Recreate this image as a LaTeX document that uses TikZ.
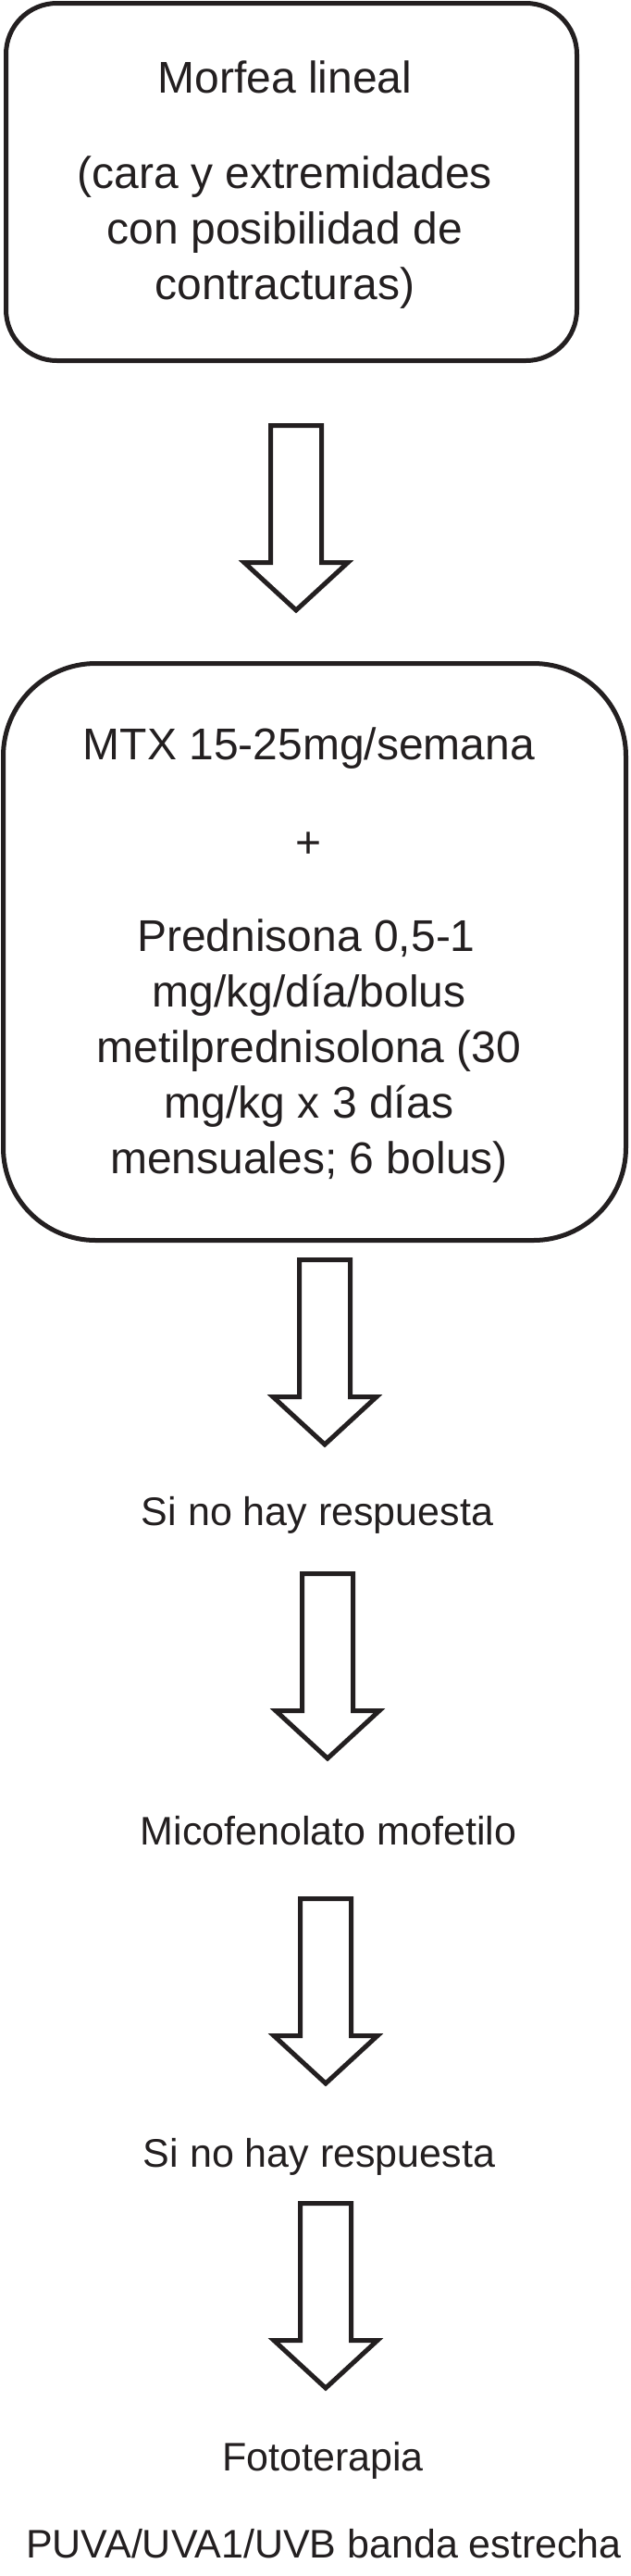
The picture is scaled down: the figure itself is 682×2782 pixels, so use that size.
\documentclass[tikz,border=0pt]{standalone}
\usepackage{fontspec}
\setmainfont{Liberation Sans}
\usetikzlibrary{calc}
\definecolor{ink}{RGB}{35,31,32}
\tikzset{
  roundbox/.style={draw=ink, line width=5pt, inner sep=0pt, fill=white},
  bigtext/.style={font=\fontsize{48}{60}\selectfont, anchor=base, inner sep=0pt, text=ink},
  smalltext/.style={font=\fontsize{43}{54}\selectfont, anchor=base, inner sep=0pt, text=ink},
  blockarrowline/.style={draw=ink, line width=5pt, line join=miter, fill=white}
}
\newcommand\blockarrow[1]{%
  \draw[blockarrowline] ($(#1)+(-27.5,2.5)$) -- ($(#1)+(-27.5,150.5)$) -- ($(#1)+(-56,150.5)$)
    -- ($(#1)+(0,202)$) -- ($(#1)+(56,150.5)$) -- ($(#1)+(27.5,150.5)$) -- ($(#1)+(27.5,2.5)$) -- cycle;}
\begin{document}
\begin{tikzpicture}[x=1pt,y=-1pt]
\useasboundingbox[fill=white] (0,0) rectangle (682,2782);

% box 1
\node[roundbox, rounded corners=55pt, minimum width=617pt, minimum height=386pt] (box1) at (315,196.5) {};
\node[bigtext] (b1a) at (308,100) {Morfea lineal};
\node[bigtext] (b1b) at (308,203) {(cara y extremidades};
\node[bigtext] (b1c) at (308,263) {con posibilidad de};
\node[bigtext] (b1d) at (308,323) {contracturas)};

% arrow 1
\coordinate (a1) at (320,457);
\blockarrow{a1}

% box 2
\node[roundbox, rounded corners=100pt, minimum width=673pt, minimum height=623pt] (box2) at (340,1028) {};
\node[bigtext] (b2a) at (334,820) {MTX 15-25mg/semana};
\node[bigtext] (b2b) at (334,926) {+};
\node[bigtext] (b2c) at (331,1027) {Prednisona 0,5-1};
\node[bigtext] (b2d) at (334,1087) {mg/kg/día/bolus};
\node[bigtext] (b2e) at (334,1147) {metilprednisolona (30};
\node[bigtext] (b2f) at (334,1207) {mg/kg x 3 días};
\node[bigtext] (b2g) at (334,1267) {mensuales; 6 bolus)};

% arrow 2
\coordinate (a2) at (351,1358);
\blockarrow{a2}
\node[smalltext] (l1) at (343,1647) {Si no hay respuesta};

% arrow 3
\coordinate (a3) at (354,1697);
\blockarrow{a3}
\node[smalltext] (l2) at (355,1992) {Micofenolato mofetilo};

% arrow 4
\coordinate (a4) at (352,2048);
\blockarrow{a4}
\node[smalltext] (l3) at (345,2340) {Si no hay respuesta};

% arrow 5
\coordinate (a5) at (352,2377);
\blockarrow{a5}
\node[smalltext] (l4) at (349,2668) {Fototerapia};
\node[smalltext] (l5) at (350,2762) {PUVA/UVA1/UVB banda estrecha};
\end{tikzpicture}
\end{document}
